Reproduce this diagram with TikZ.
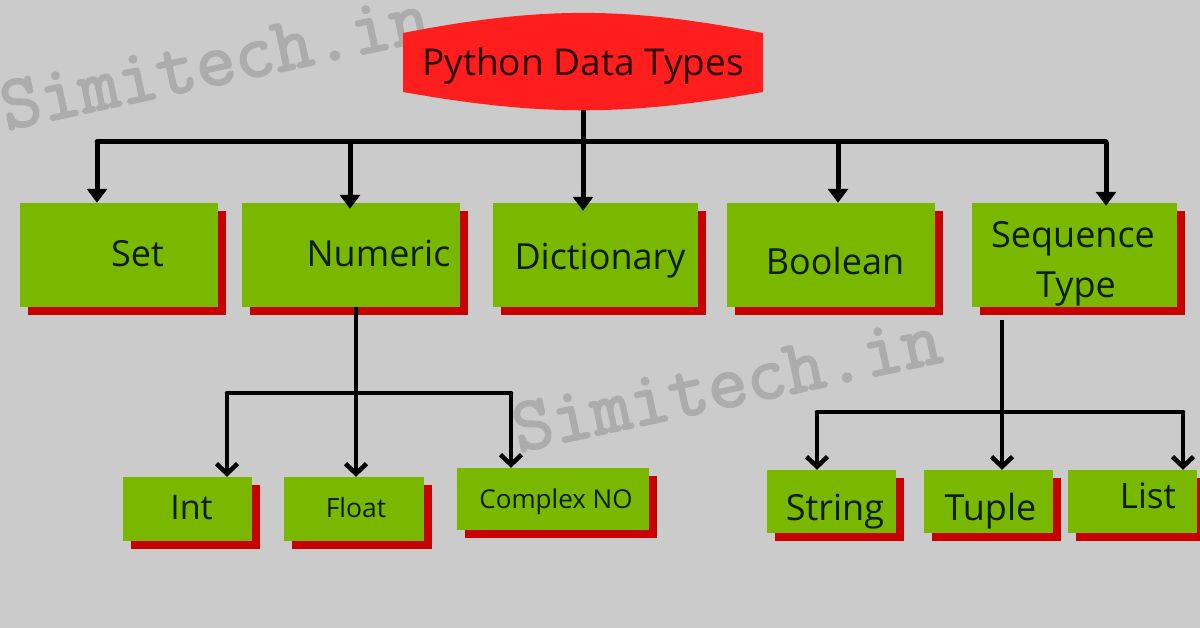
\documentclass[tikz,border=0pt]{standalone}
\usepackage{fontspec}
\setmainfont{Open Sans}
\newfontfamily\wmfont[FakeBold=2.5]{Latin Modern Mono}
\usetikzlibrary{arrows.meta,shadows}

\definecolor{bggray}{RGB}{203,203,203}
\definecolor{boxgreen}{RGB}{122,184,0}
\definecolor{shadred}{RGB}{200,0,0}
\definecolor{topred}{RGB}{255,30,30}
\definecolor{wmgray}{RGB}{172,172,172}
\definecolor{txtdark}{RGB}{12,30,0}
\definecolor{roottxt}{RGB}{45,0,0}

\tikzset{
  gbox/.style={fill=boxgreen, inner sep=0pt,
    general shadow={fill=shadred, shadow xshift=8pt, shadow yshift=-8pt}},
  btxt/.style={anchor=base, inner sep=0pt, text=txtdark,
    font=\fontsize{36}{43}\selectfont},
  stxt/.style={btxt, font=\fontsize{26.5}{32}\selectfont},
  wmark/.style={anchor=base west, inner sep=0pt, text=wmgray, rotate=12,
    font=\wmfont\fontsize{77}{84}\selectfont},
  bus/.style={line width=5pt, line cap=round},
  toparrow/.style={line width=5pt, -{Triangle[width=20pt,length=14pt]}},
  bus2/.style={line width=4.5pt, line cap=round},
  lowarrow/.style={line width=4.5pt, -{Straight Barb[width=21pt,length=10pt]}},
}

\begin{document}
\begin{tikzpicture}[x=1pt,y=-1pt]
\fill[bggray] (0,0) rectangle (1200,628);
\useasboundingbox (0,0) rectangle (1200,628);

% watermark
\node[wmark] (wm1) at (6,130) {Simitech.in};
\node[wmark] (wm2) at (518,452) {Simitech.in};

% root
\fill[topred] (403,33) to[bend left=11] (763,33) -- (763,92)
  to[bend left=10] (403,92) -- cycle;
\node[inner sep=0pt, minimum width=360pt, minimum height=59pt,
  text height=27pt, text depth=0pt, text=roottxt,
  font=\fontsize{37}{44}\selectfont] (root) at (583,62.5) {Python Data Types};

% first level
\node[gbox, minimum width=198pt, minimum height=104pt] (set) at (119,255) {};
\node[gbox, minimum width=218pt, minimum height=104pt] (numeric) at (351,255) {};
\node[gbox, minimum width=205pt, minimum height=104pt] (dict) at (595.5,255) {};
\node[gbox, minimum width=208pt, minimum height=104pt] (bool) at (831,255) {};
\node[gbox, minimum width=205pt, minimum height=104pt] (seq) at (1074.5,255) {};

\node[btxt] (setlbl) at (137.5,267) {Set};
\node[btxt] (numlbl) at (378.5,267) {Numeric};
\node[btxt] (dictlbl) at (600,270) {Dictionary};
\node[btxt] (boollbl) at (835,275) {Boolean};
\node[btxt] (seqlbl) at (1073,248) {Sequence};
\node[btxt] (typelbl) at (1076,298) {Type};

% second level
\node[gbox, minimum width=129pt, minimum height=64pt] (int) at (187.5,509) {};
\node[gbox, minimum width=140pt, minimum height=64pt] (float) at (354,509) {};
\node[gbox, minimum width=192pt, minimum height=62pt] (complex) at (553,499) {};
\node[gbox, minimum width=129pt, minimum height=63pt] (string) at (831.5,501.5) {};
\node[gbox, minimum width=129pt, minimum height=63pt] (tuple) at (988.5,501.5) {};
\node[gbox, minimum width=129pt, minimum height=63pt] (list) at (1132.5,501.5) {};

\node[btxt, font=\fontsize{34}{41}\selectfont] (intlbl) at (191.5,519) {Int};
\node[stxt] (floatlbl) at (356,517) {Float};
\node[stxt, font=\fontsize{26}{31}\selectfont] (complexlbl) at (556,508) {Complex NO};
\node[btxt] (stringlbl) at (835,520) {String};
\node[btxt] (tuplelbl) at (990.5,520) {Tuple};
\node[btxt, font=\fontsize{35}{42}\selectfont] (listlbl) at (1148,508) {List};

% connectors
\coordinate (rootb) at (583,110);
\foreach \n/\x in {b1/97,b2/350,b3/838,b4/1106}
  \coordinate (\n) at (\x,142);
\draw[bus] (b1) -- (b4);
\draw[toparrow] (rootb) -- ([yshift=-8pt]rootb |- dict.north);
\draw[toparrow] (b1) -- (b1 |- set.north);
\draw[toparrow] (b2) -- ([yshift=-6pt]b2 |- numeric.north);
\draw[toparrow] (b3) -- (b3 |- bool.north);
\draw[toparrow] (b4) -- ([yshift=-3pt]b4 |- seq.north);

\coordinate (n0) at (356,393);
\coordinate (n1) at (227,393);
\coordinate (n2) at (511,393);
\draw[bus2] (n1) -- (n2);
\draw[lowarrow] (numeric.south -| n0) -- (n0 |- float.north);
\draw[lowarrow] (n1) -- (n1 |- int.north);
\draw[lowarrow] (n2) -- (n2 |- complex.north);

\coordinate (stop) at (1002,320);
\coordinate (s0) at (1002,412);
\coordinate (s1) at (817,412);
\coordinate (s2) at (1183,412);
\draw[bus2] (s1) -- (s2);
\draw[lowarrow] (stop) -- (s0 |- tuple.north);
\draw[lowarrow] (s1) -- (s1 |- string.north);
\draw[lowarrow] (s2) -- (s2 |- list.north);
\end{tikzpicture}
\end{document}
